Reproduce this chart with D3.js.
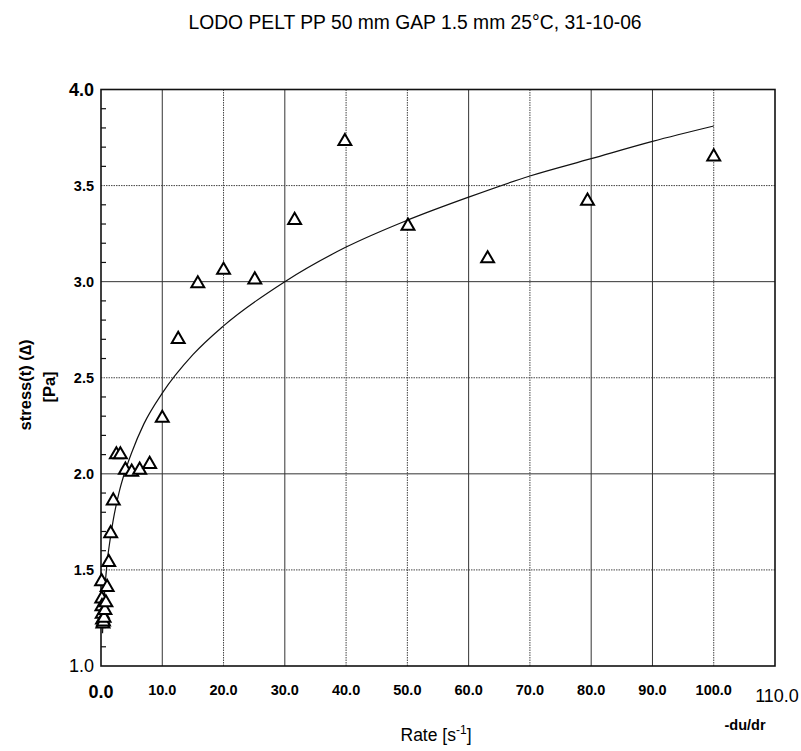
<!DOCTYPE html>
<html>
<head>
<meta charset="utf-8">
<script src="https://cdn.jsdelivr.net/npm/d3@7/dist/d3.min.js"></script>
<style>
  html, body { margin: 0; padding: 0; background: #fff; }
  svg { display: block; font-family: "Liberation Sans", Arial, sans-serif; }
</style>
</head>
<body>
<svg id="chart" width="801" height="751"></svg>
<script>
// Measured shear rate (s^-1) and shear stress (Pa)
const rate = [0.1, 0.126, 0.158, 0.2, 0.251, 0.316, 0.398, 0.501, 0.631, 0.794,
              1.0, 1.26, 1.58, 2.0, 2.51, 3.16, 3.98, 5.01, 6.31, 7.94,
              10.0, 12.6, 15.8, 20.0, 25.1, 31.6, 39.8, 50.1, 63.1, 79.4, 100.0];
const stress = [1.44, 1.35, 1.31, 1.27, 1.24, 1.22, 1.23, 1.25, 1.29, 1.33,
                1.41, 1.54, 1.69, 1.86, 2.10, 2.10, 2.02, 2.01, 2.02, 2.05,
                2.29, 2.70, 2.99, 3.06, 3.01, 3.32, 3.73, 3.29, 3.12, 3.42, 3.65];

// Fitted flow curve
const fitRate = [0.25, 0.3, 0.5, 1, 1.5, 2, 3, 4, 5, 7, 10, 15, 20, 30, 40, 50, 60, 70, 80, 90, 100];
const fitStress = [1.17, 1.21, 1.34, 1.54, 1.66, 1.76, 1.91, 2.02, 2.11, 2.26, 2.42, 2.62, 2.77,
                   3.00, 3.18, 3.32, 3.44, 3.55, 3.64, 3.73, 3.81];

const xTicks = [0, 10, 20, 30, 40, 50, 60, 70, 80, 90, 100, 110];
const yTicks = [1.0, 1.5, 2.0, 2.5, 3.0, 3.5, 4.0];
const yMinor = d3.range(1.1, 4.0, 0.1).filter(v => Math.abs(v * 2 - Math.round(v * 2)) > 1e-6);
const xGridSolid = [10, 30, 60, 80, 90];
const xGridDotted = [20, 40, 50, 70, 100];
const yGridSolid = [2.0, 3.0];
const yGridDotted = [1.5, 2.5, 3.5];

const svg = d3.select("#chart");
const x = d3.scaleLinear().domain([0, 110]).range([101, 775]);
const y = d3.scaleLinear().domain([1, 4]).range([666, 89.5]);

// Title
svg.append("text")
  .attr("x", 415).attr("y", 29)
  .attr("text-anchor", "middle")
  .attr("font-size", 19.3)
  .text("LODO PELT PP 50 mm GAP 1.5 mm 25°C, 31-10-06");

// Grid
const grid = svg.append("g");
grid.selectAll(".vs").data(xGridSolid).join("line")
  .attr("x1", d => x(d)).attr("x2", d => x(d))
  .attr("y1", y(1)).attr("y2", y(4))
  .attr("stroke", "#333").attr("stroke-width", 1);
grid.selectAll(".vd").data(xGridDotted).join("line")
  .attr("x1", d => x(d)).attr("x2", d => x(d))
  .attr("y1", y(1)).attr("y2", y(4))
  .attr("stroke", "#444").attr("stroke-width", 1).attr("stroke-dasharray", "1.5,1");
grid.selectAll(".hs").data(yGridSolid).join("line")
  .attr("x1", x(0)).attr("x2", x(110))
  .attr("y1", d => y(d)).attr("y2", d => y(d))
  .attr("stroke", "#333").attr("stroke-width", 1);
grid.selectAll(".hd").data(yGridDotted).join("line")
  .attr("x1", x(0)).attr("x2", x(110))
  .attr("y1", d => y(d)).attr("y2", d => y(d))
  .attr("stroke", "#444").attr("stroke-width", 1).attr("stroke-dasharray", "1.5,1");

// Minor ticks on the stress axis, pointing into the plot
svg.append("g").selectAll("line").data(yMinor).join("line")
  .attr("x1", x(0)).attr("x2", x(0) + 5)
  .attr("y1", d => y(d)).attr("y2", d => y(d))
  .attr("stroke", "#111").attr("stroke-width", 1.2);

// Frame
svg.append("rect")
  .attr("x", x(0)).attr("y", y(4))
  .attr("width", x(110) - x(0)).attr("height", y(1) - y(4))
  .attr("fill", "none").attr("stroke", "#111").attr("stroke-width", 1.6);

// Clip for curve
svg.append("clipPath").attr("id", "plotClip")
  .append("rect")
  .attr("x", x(0)).attr("y", y(4))
  .attr("width", x(110) - x(0)).attr("height", y(1) - y(4));

// Fit curve
const line = d3.line()
  .x(d => x(d))
  .y((d, i) => y(fitStress[i]))
  .curve(d3.curveMonotoneX);
svg.append("path")
  .attr("d", line(fitRate))
  .attr("clip-path", "url(#plotClip)")
  .attr("fill", "none").attr("stroke", "#111").attr("stroke-width", 1.2);

// Data markers: open triangles
const tri = d3.symbol().type(d3.symbolTriangle).size(72);
svg.append("g").selectAll("path").data(rate).join("path")
  .attr("transform", (d, i) => `translate(${x(d)},${y(stress[i])})`)
  .attr("d", tri)
  .attr("fill", "#fff")
  .attr("stroke", "#000").attr("stroke-width", 2);

// Y tick labels
svg.append("g").selectAll("text").data(yTicks).join("text")
  .attr("x", 94)
  .attr("y", d => y(d))
  .attr("dy", "0.36em")
  .attr("text-anchor", "end")
  .attr("font-weight", d => (d === 1.0 ? "normal" : "bold"))
  .attr("font-size", d => (d === 1.0 || d === 4.0 ? 18 : 14.5))
  .text(d => d.toFixed(1));

// X tick labels
svg.append("g").selectAll("text").data(xTicks).join("text")
  .attr("x", d => x(d) + (d === 110 ? 2 : 0))
  .attr("y", d => (d === 0 ? 698 : d === 110 ? 702 : 695))
  .attr("text-anchor", "middle")
  .attr("font-weight", d => (d === 110 ? "normal" : "bold"))
  .attr("font-size", d => (d === 0 || d === 110 ? 18 : 14.5))
  .text(d => d.toFixed(1));

// Axis titles
svg.append("text")
  .attr("transform", "translate(31,385) rotate(-90)")
  .attr("text-anchor", "middle")
  .attr("font-weight", "bold").attr("font-size", 16.5)
  .text("stress(t) (\u2206)");
svg.append("text")
  .attr("transform", "translate(55,387) rotate(-90)")
  .attr("text-anchor", "middle")
  .attr("font-weight", "bold").attr("font-size", 16.5)
  .text("[Pa]");

const xt = svg.append("text")
  .attr("x", 436).attr("y", 741)
  .attr("text-anchor", "middle")
  .attr("font-size", 17.5);
xt.append("tspan").text("Rate [s");
xt.append("tspan").attr("dy", -7).attr("font-size", 12).text("-1");
xt.append("tspan").attr("dy", 7).text("]");

svg.append("text")
  .attr("x", 745).attr("y", 730)
  .attr("text-anchor", "middle")
  .attr("font-weight", "bold").attr("font-size", 14.5)
  .text("-du/dr");
</script>
</body>
</html>
